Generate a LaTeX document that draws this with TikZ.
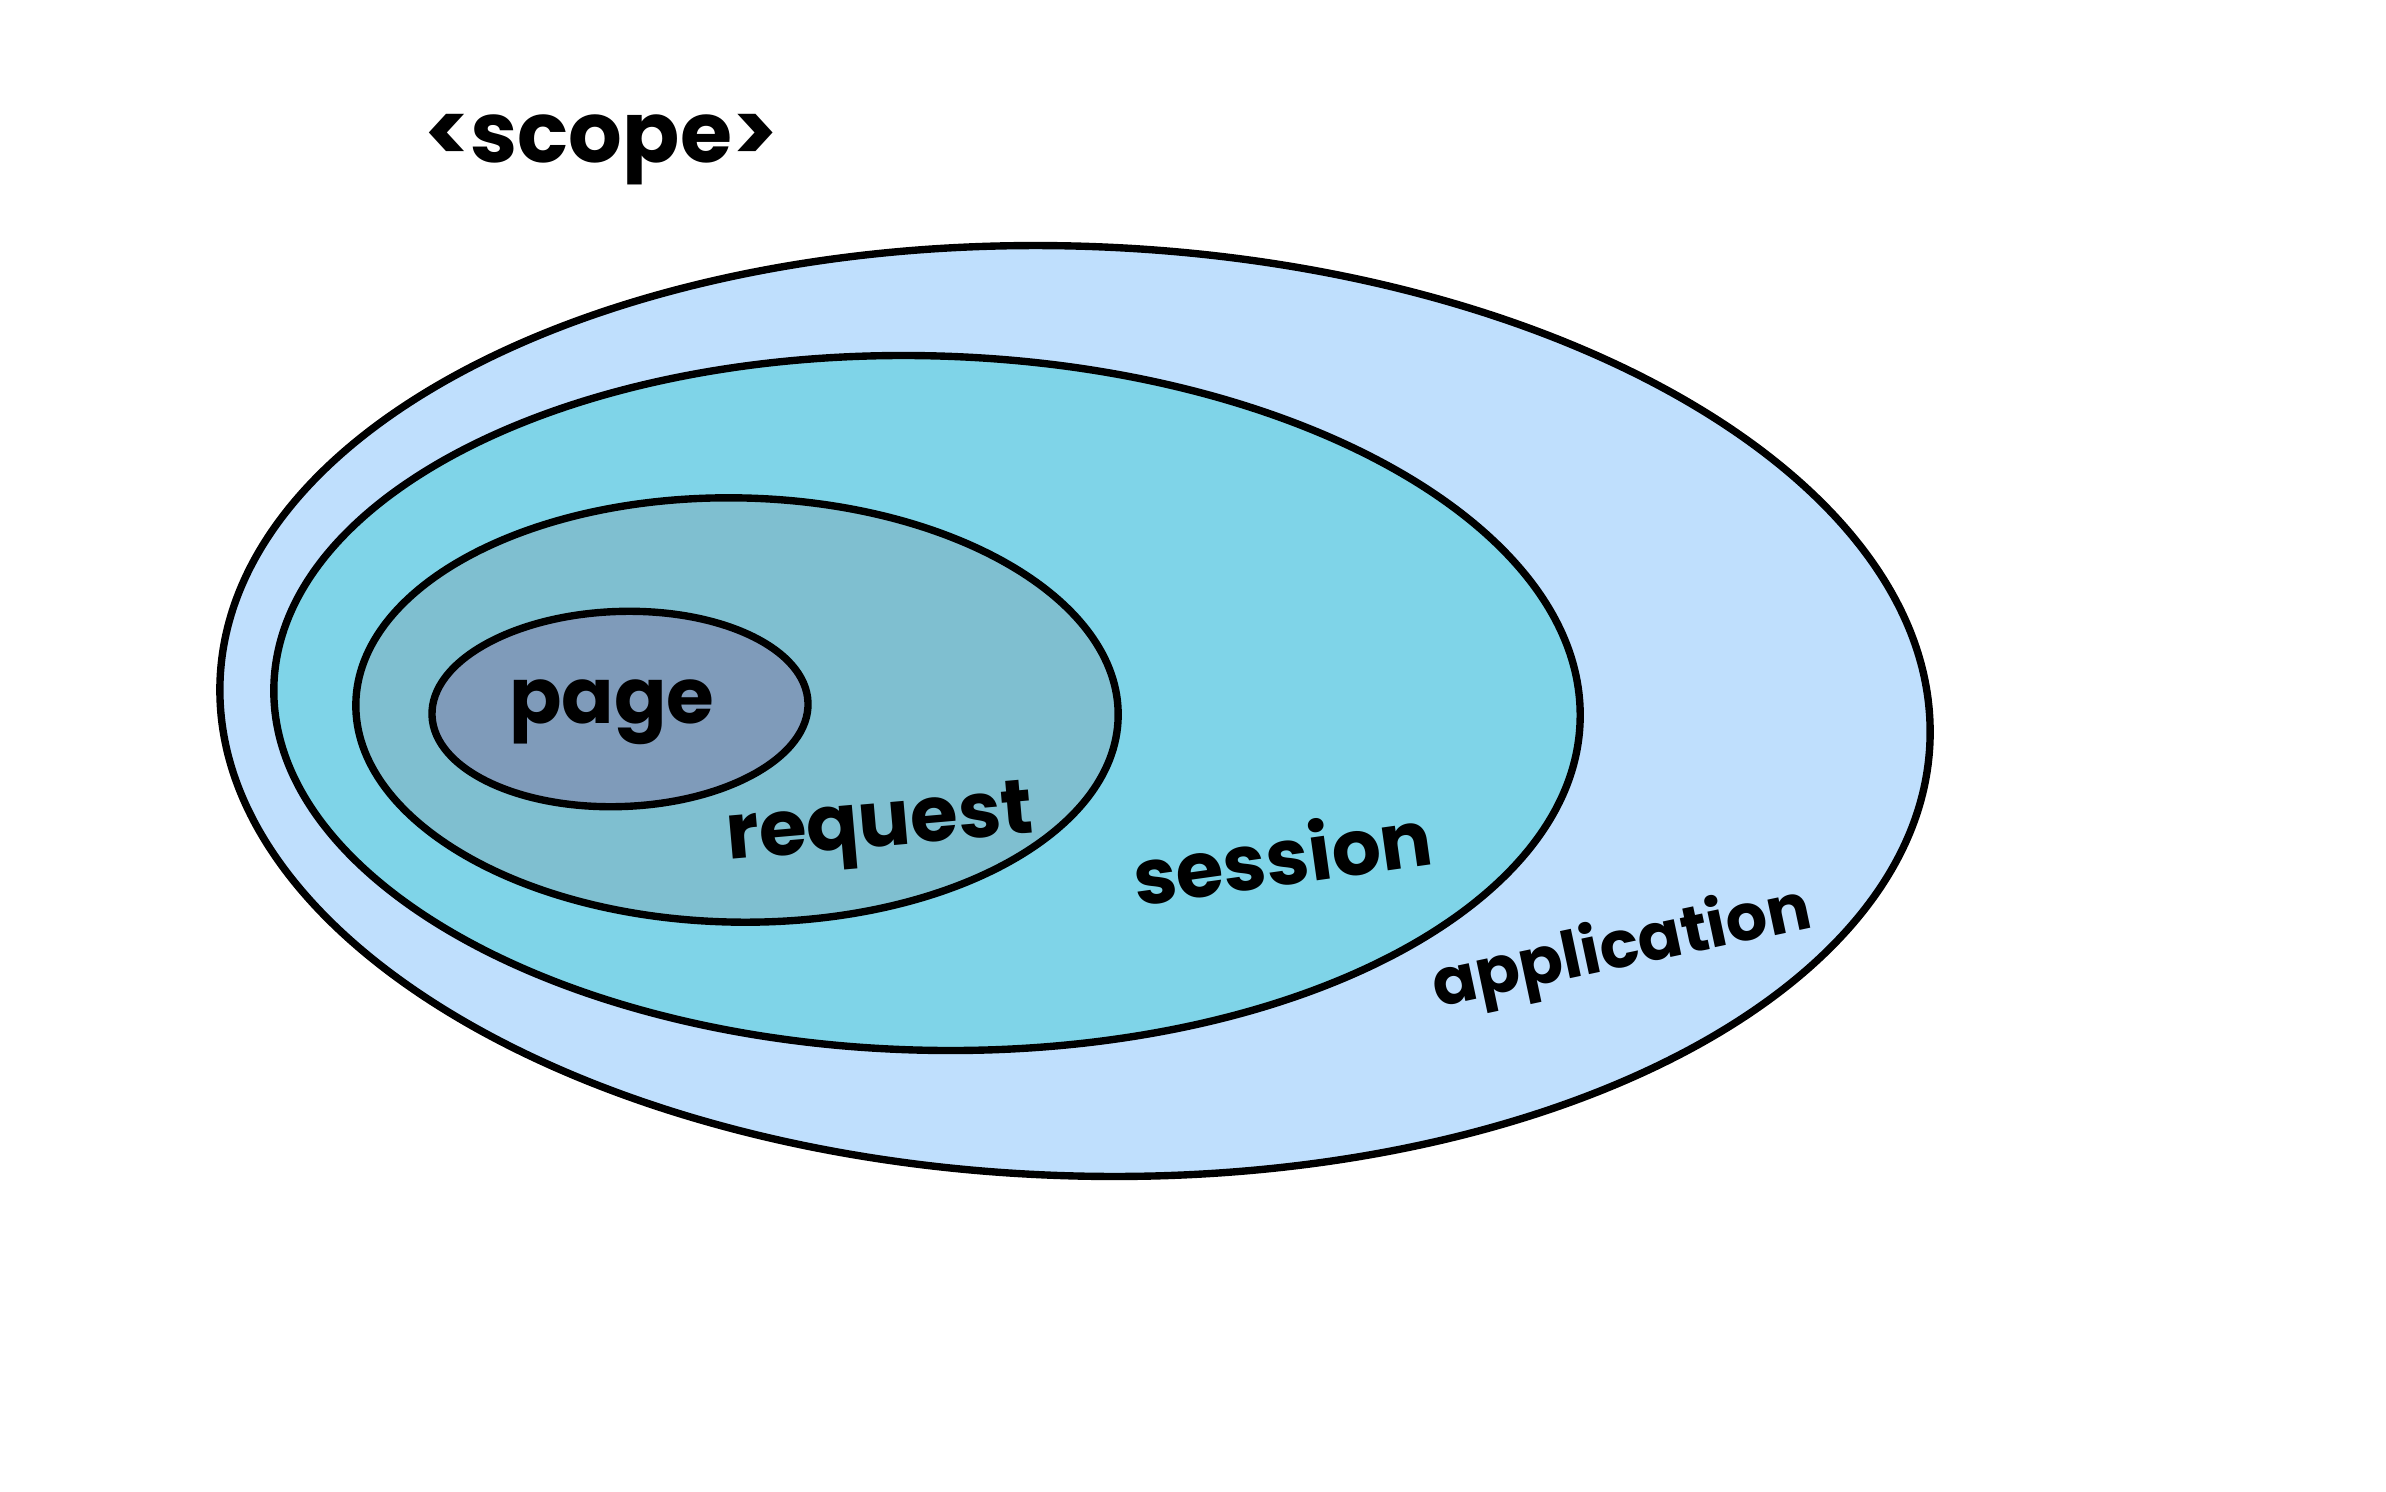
\documentclass[tikz,border=0pt]{standalone}
\usepackage{fontspec}
\newfontfamily\hand{Poppins}
\usetikzlibrary{shapes.geometric}
\definecolor{appc}{HTML}{BFDFFD}
\definecolor{sesc}{HTML}{7FD4E8}
\definecolor{reqc}{HTML}{7FBFD0}
\definecolor{pagec}{HTML}{7F9BBA}
\begin{document}
\begin{tikzpicture}[x=0.01cm,y=-0.01cm,
  scopeel/.style={ellipse, draw=black, line width=2.1pt, inner sep=0pt, outer sep=0pt},
  lbl/.style={font=\hand\bfseries\fontsize{22}{26}\selectfont, text=black, inner sep=0pt}]
\useasboundingbox[fill=white] (0,0) rectangle (2386,1491);
\node[scopeel, fill=appc, minimum width=17.10cm, minimum height=9.29cm, rotate=-2] (app) at (1075,711) {};
\node[scopeel, fill=sesc, minimum width=13.06cm, minimum height=6.94cm, rotate=-1.5] (ses) at (927,703) {};
\node[scopeel, fill=reqc, minimum width=7.62cm, minimum height=4.24cm, rotate=-1] (req) at (737,710) {};
\node[scopeel, fill=pagec, minimum width=3.76cm, minimum height=1.95cm, rotate=2] (pg) at (620,709) {};
\node[lbl, font=\hand\bfseries\fontsize{24}{28}\selectfont] (tscope) at (601,150) {<scope>};
\node[lbl] (tpage) at (612,712) {page};
\node[lbl, rotate=5] (treq) at (880,830) {request};
\node[lbl, rotate=8] (tses) at (1282,855) {session};
\node[lbl, rotate=12, font=\hand\bfseries\fontsize{18.5}{22}\selectfont] (tapp) at (1622,950) {application};
\end{tikzpicture}
\end{document}
